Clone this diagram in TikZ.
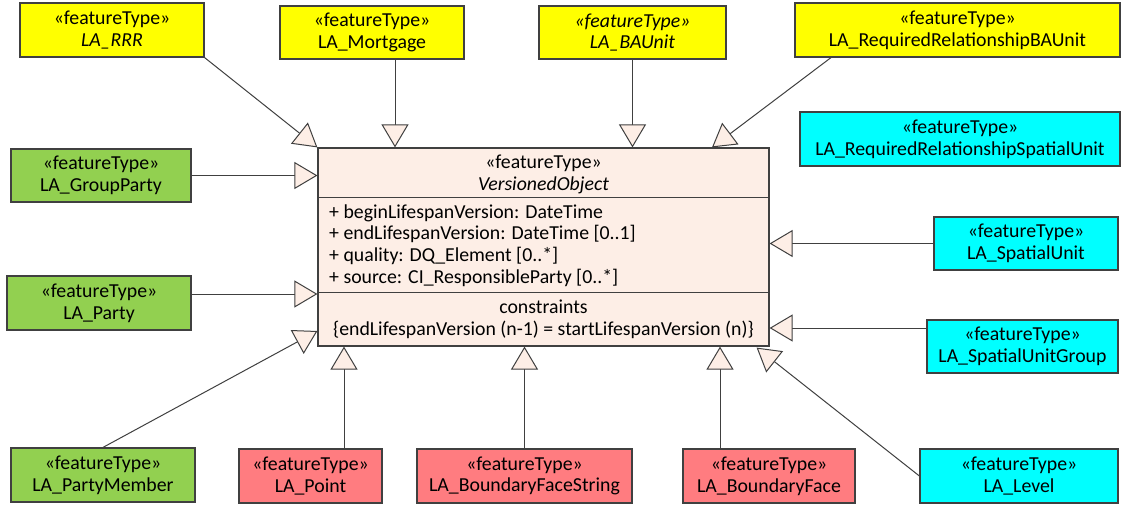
\documentclass[tikz,border=0pt]{standalone}
\usepackage{fontspec}
\setmainfont{Carlito}
\usetikzlibrary{arrows.meta}

\definecolor{ftyellow}{HTML}{FFFF00}
\definecolor{ftgreen}{HTML}{92D050}
\definecolor{ftcyan}{HTML}{00FFFF}
\definecolor{ftred}{HTML}{FF7C80}
\definecolor{vofill}{HTML}{FDEEE6}
\definecolor{edgegray}{HTML}{404040}

\tikzset{
  txt/.style={font=\fontsize{19.8}{21.7}\selectfont, text=black},
  cls/.style={txt, draw=edgegray, line width=1.2pt, align=center, inner sep=0pt,
              minimum height=54pt},
  gen/.style={draw=edgegray, line width=1pt,
              -{Triangle[length=23pt,width=27pt,fill=vofill]}},
  divider/.style={draw=edgegray, line width=1.2pt},
}

\begin{document}
\begin{tikzpicture}[x=1pt,y=-1pt]
\useasboundingbox (0,0) rectangle (1128,506);
\fill[white] (0,0) rectangle (1128,506);

% central class
\node[draw=edgegray, line width=1.2pt, fill=vofill, minimum width=451pt,
      minimum height=198pt, inner sep=0pt] (vo) at (543.5,247) {};
\draw[divider] ([yshift=-50pt]vo.north west) -- ([yshift=-50pt]vo.north east);
\draw[divider] ([yshift=-145pt]vo.north west) -- ([yshift=-145pt]vo.north east);
\node[txt, align=center, inner sep=0pt] (vohead) at (543.5,174.5)
  {«featureType»\\\textit{VersionedObject}};
\node[txt, align=left, anchor=west, inner sep=0pt] (voattr) at (329,245.5)
  {+ beginLifespanVersion: DateTime\\
   + endLifespanVersion: DateTime [0..1]\\
   + quality: DQ\_Element [0..*]\\
   + source: CI\_ResponsibleParty [0..*]};
\node[txt, align=center, inner sep=0pt] (vocons) at (543.5,319.5)
  {constraints\\\{endLifespanVersion (n-1) = startLifespanVersion (n)\}};

% top row
\node[cls, fill=ftyellow, minimum width=184pt] (rrr) at (112,30)
  {«featureType»\\\textit{LA\_RRR}};
\node[cls, fill=ftyellow, minimum width=184pt, minimum height=53pt] (mort) at (372,32.5)
  {«featureType»\\LA\_Mortgage};
\node[cls, fill=ftyellow, minimum width=187pt, minimum height=53pt] (bau) at (632.5,32.5)
  {\textit{«featureType»}\\\textit{LA\_BAUnit}};
\node[cls, fill=ftyellow, minimum width=325pt] (rrbau) at (957.5,30)
  {«featureType»\\LA\_RequiredRelationshipBAUnit};
\node[cls, fill=ftcyan, minimum width=320pt] (rrsu) at (960,139)
  {«featureType»\\LA\_RequiredRelationshipSpatialUnit};

% left column
\node[cls, fill=ftgreen, minimum width=180pt, minimum height=53pt] (grp) at (101,175.5)
  {«featureType»\\LA\_GroupParty};
\node[cls, fill=ftgreen, minimum width=184pt] (party) at (99,303)
  {«featureType»\\LA\_Party};

% right column
\node[cls, fill=ftcyan, minimum width=184pt, minimum height=53pt] (su) at (1026,243.5)
  {«featureType»\\LA\_SpatialUnit};
\node[cls, fill=ftcyan, minimum width=191pt, minimum height=53pt] (sug) at (1022.5,346.5)
  {«featureType»\\LA\_SpatialUnitGroup};

% bottom row
\node[cls, fill=ftgreen, minimum width=184pt] (pm) at (103,475)
  {«featureType»\\LA\_PartyMember};
\node[cls, fill=ftred, minimum width=143pt] (pt) at (310.5,476)
  {«featureType»\\LA\_Point};
\node[cls, fill=ftred, minimum width=215pt] (bfs) at (524.5,476)
  {«featureType»\\LA\_BoundaryFaceString};
\node[cls, fill=ftred, minimum width=172pt] (bf) at (769,476)
  {«featureType»\\LA\_BoundaryFace};
\node[cls, fill=ftcyan, minimum width=198pt] (lvl) at (1019,476)
  {«featureType»\\LA\_Level};

% generalisations
\draw[gen] (rrr.south east) -- (vo.north west);
\draw[gen] ([xshift=23pt]mort.south) -- ([xshift=-148.5pt]vo.north);
\draw[gen] (bau.south) -- ([xshift=89pt]vo.north);
\draw[gen] ([xshift=-126.5pt]rrbau.south) -- ([xshift=168.5pt]vo.north);
\draw[gen] (grp.east) -- (grp.east -| vo.west);
\draw[gen] ([yshift=9pt]party.east) -- ([yshift=-47pt]vo.west);
\draw[gen] (pm.north) -- ([yshift=-84pt]vo.west);
\draw[gen] ([xshift=33.5pt]pt.north) -- ([xshift=-199.5pt]vo.south);
\draw[gen] (bfs.north) -- ([xshift=-19pt]vo.south);
\draw[gen] ([xshift=-49pt]bf.north) -- ([xshift=176.5pt]vo.south);
\draw[gen] (lvl.west) -- ([xshift=-13pt,yshift=-1pt]vo.south east);
\draw[gen] (su.west) -- (su.west -| vo.east);
\draw[gen] ([yshift=18.5pt]sug.west) -- ([yshift=-81pt]vo.east);
\end{tikzpicture}
\end{document}
